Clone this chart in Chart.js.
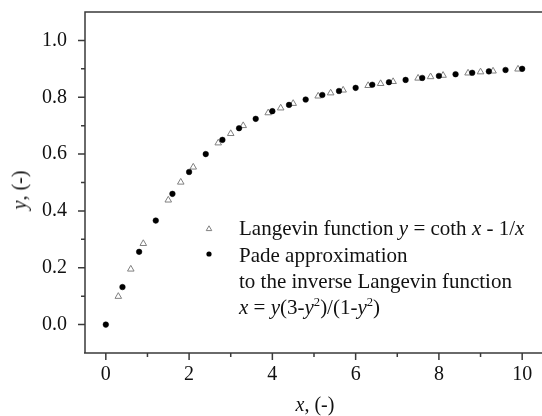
<!DOCTYPE html>
<html>
<head>
<meta charset="utf-8">
<script src="https://cdn.jsdelivr.net/npm/chart.js@4.4.1/dist/chart.umd.min.js"></script>
<style>
    html, body { margin: 0; padding: 0; background: #fff; overflow: hidden; }
    #wrap { position: relative; width: 542px; height: 416px; overflow: hidden; }
    #chart { position: absolute; left: 0; top: 0; }
    .lbl {
        position: absolute;
        font-family: "Liberation Serif", "Times New Roman", serif;
        color: #111;
        white-space: nowrap;
        line-height: 24px;
        height: 24px;
    }
    .lbl sup { font-size: 0.6em; line-height: 0; vertical-align: 0.65em; }
</style>
</head>
<body>
<div id="wrap">
    <canvas id="chart" width="548" height="416"></canvas>
    <div class="lbl" id="ytitle" style="font-size:20px;left:19px;top:190px;transform:translate(-50%,-50%) rotate(-90deg);"><i>y</i>, (-)</div>
    <div class="lbl" style="font-size:20px;left:315px;top:404px;transform:translate(-50%,-50%);"><i>x</i>, (-)</div>
    <div class="lbl" style="font-size:21px;left:239px;top:216px;">Langevin function <i>y</i> = coth <i>x</i> - 1/<i>x</i></div>
    <div class="lbl" style="font-size:21px;left:239px;top:243px;">Pade approximation</div>
    <div class="lbl" style="font-size:21px;left:239px;top:269px;">to the inverse Langevin function</div>
    <div class="lbl" style="font-size:21px;left:239px;top:295px;"><i>x</i> = <i>y</i>(3-<i>y</i><sup>2</sup>)/(1-<i>y</i><sup>2</sup>)</div>
</div>
<script>
// ── Dados ──
const PADE_X = [0, 0.4, 0.8, 1.2, 1.6, 2.0, 2.4, 2.8, 3.2, 3.6, 4.0, 4.4, 4.8,
                5.2, 5.6, 6.0, 6.4, 6.8, 7.2, 7.6, 8.0, 8.4, 8.8, 9.2, 9.6, 10.0];
const PADE_Y = [0, 0.132, 0.256, 0.366, 0.460, 0.537, 0.600, 0.650, 0.691, 0.724, 0.751, 0.773, 0.792,
                0.808, 0.822, 0.833, 0.844, 0.853, 0.861, 0.868, 0.875, 0.881, 0.886, 0.891, 0.896, 0.900];

const LANG_X = [0.3, 0.6, 0.9, 1.5, 1.8, 2.1, 2.7, 3.0, 3.3, 3.9, 4.2, 4.5, 5.1,
                5.4, 5.7, 6.3, 6.6, 6.9, 7.5, 7.8, 8.1, 8.7, 9.0, 9.3, 9.9];
const LANG_Y = [0.099, 0.195, 0.285, 0.438, 0.501, 0.554, 0.639, 0.672, 0.700, 0.745, 0.762, 0.778, 0.804,
                0.815, 0.825, 0.841, 0.848, 0.855, 0.867, 0.872, 0.877, 0.885, 0.889, 0.892, 0.899];

const X_TICKS = [0, 2, 4, 6, 8, 10];
const X_MINOR = [1, 3, 5, 7, 9];
const Y_TICKS = [0, 0.2, 0.4, 0.6, 0.8, 1.0];
const Y_MINOR = [0.1, 0.3, 0.5, 0.7, 0.9];

const AXIS = '#3a3a3a';
const FONT = { family: '"Liberation Serif", "Times New Roman", serif', size: 20 };

// ── Eixos, ticks e marcadores da legenda ──
const frame = {
    id: 'frame',
    afterDraw(chart) {
        const { ctx, chartArea: a, scales: { x, y } } = chart;
        ctx.save();
        ctx.strokeStyle = AXIS;
        ctx.lineWidth = 1.5;
        ctx.beginPath();
        ctx.moveTo(a.left, a.bottom); ctx.lineTo(a.left, a.top); ctx.lineTo(a.right + 5, a.top);
        ctx.moveTo(a.left - 1, a.bottom); ctx.lineTo(a.right + 5, a.bottom);
        X_TICKS.forEach(v => { const p = x.getPixelForValue(v); ctx.moveTo(p, a.bottom); ctx.lineTo(p, a.bottom + 7); });
        X_MINOR.forEach(v => { const p = x.getPixelForValue(v); ctx.moveTo(p, a.bottom); ctx.lineTo(p, a.bottom + 4); });
        Y_TICKS.forEach(v => { const p = y.getPixelForValue(v); ctx.moveTo(a.left, p); ctx.lineTo(a.left - 7, p); });
        Y_MINOR.forEach(v => { const p = y.getPixelForValue(v); ctx.moveTo(a.left, p); ctx.lineTo(a.left - 4, p); });
        ctx.stroke();

        // marcadores da legenda
        ctx.strokeStyle = '#808080';
        ctx.lineWidth = 1;
        ctx.beginPath();
        const tx = 209, ty = 229, r = 3.2;
        ctx.moveTo(tx, ty - r);
        ctx.lineTo(tx + r * 0.866, ty + r * 0.5);
        ctx.lineTo(tx - r * 0.866, ty + r * 0.5);
        ctx.closePath();
        ctx.stroke();
        ctx.fillStyle = '#000';
        ctx.beginPath();
        ctx.arc(209, 254, 2.6, 0, Math.PI * 2);
        ctx.fill();
        ctx.restore();
    }
};

new Chart(document.getElementById('chart'), {
    type: 'scatter',
    data: {
        datasets: [
            {
                label: 'Pade approximation',
                data: PADE_X.map((v, i) => ({ x: v, y: PADE_Y[i] })),
                pointStyle: 'circle',
                pointRadius: 2.8,
                pointBackgroundColor: '#000',
                pointBorderColor: '#000',
                pointBorderWidth: 0.5,
                order: 0,
            },
            {
                label: 'Langevin function',
                data: LANG_X.map((v, i) => ({ x: v, y: LANG_Y[i] })),
                pointStyle: 'triangle',
                pointRadius: 3.8,
                pointBackgroundColor: 'rgba(255,255,255,0)',
                pointBorderColor: '#808080',
                pointBorderWidth: 1,
                order: 1,
            }
        ]
    },
    options: {
        responsive: false,
        animation: false,
        events: [],
        layout: { padding: { left: 0, top: 12, right: 3, bottom: 0 } },
        plugins: { legend: { display: false }, tooltip: { enabled: false } },
        scales: {
            x: {
                type: 'linear',
                min: -0.5,
                max: 10.5,
                afterBuildTicks: s => { s.ticks = X_TICKS.map(v => ({ value: v })); },
                afterFit: s => { s.height = 63; s.paddingLeft = 0; s.paddingRight = 0; },
                grid: { display: false },
                border: { display: false },
                ticks: { color: '#111', font: FONT, padding: 2, maxRotation: 0, callback: v => v }
            },
            y: {
                type: 'linear',
                min: -0.1,
                max: 1.1,
                afterBuildTicks: s => { s.ticks = Y_TICKS.map(v => ({ value: v })); },
                afterFit: s => { s.width = 85; s.paddingTop = 0; s.paddingBottom = 0; },
                grid: { display: false },
                border: { display: false },
                ticks: { color: '#111', font: FONT, padding: 10, callback: v => v.toFixed(1) }
            }
        }
    },
    plugins: [frame]
});
</script>
</body>
</html>
